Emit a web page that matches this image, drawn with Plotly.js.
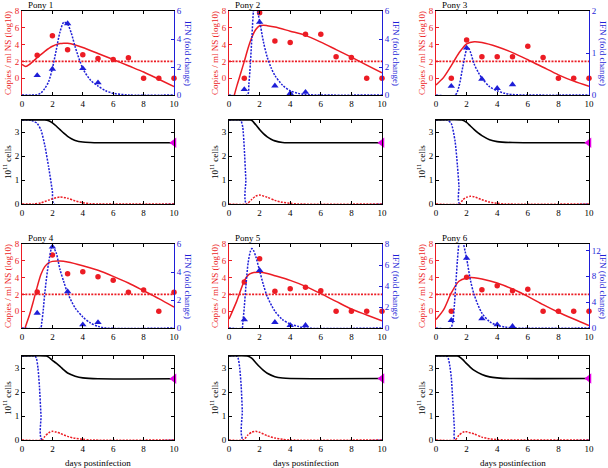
<!DOCTYPE html>
<html><head><meta charset="utf-8">
<script src="https://cdn.plot.ly/plotly-3.0.1.min.js"></script>
<style>html,body{margin:0;padding:0;background:#fff}#chart{width:608px;height:468px}</style>
</head><body><div id="chart"></div>
<script>
// ---------- DATA ----------
const ponyNames = ['Pony 1','Pony 2','Pony 3','Pony 4','Pony 5','Pony 6'];
const obsDays = [1,2,3,4,5,6,7,8,9,10];
const ifnDays = [1,2,3,4,5];
const detectionLimit = 2;
const ifnMax = [6,6,2,6,8,13];
const ifnTickVals = [[0,2,4,6],[0,2,4,6],[0,1,2],[0,2,4,6],[0,2,4,6,8],[0,4,8,12]];
const xTickVals = [0,2,4,6,8,10];
const copiesTickVals = [0,2,4,6,8];
const cellTickVals = [0,1,2,3];

// observed virus titre (log10 copies / ml NS)
const copiesP1 = [2.74,5.04,3.38,2.78,2.35,2.23,2.43,0,0,0];
const copiesP2 = [0,7.8,4.44,4.25,5.23,5.23,2.55,2.47,0,0];
const copiesP3 = [0,4.56,2.55,2.55,2.55,3.8,2.47,0,0,0];
const copiesP4 = [2.29,6.69,4.47,4.7,4.11,3.67,2.25,2.52,0,2.25];
const copiesP5 = [3.48,6.25,2.37,2.68,2.84,2.44,0,0,0,0];
const copiesP6 = [0,4.03,2.56,3.04,2.44,2.6,0,0,0,0];

// observed IFN (fold change)
const ifnP1 = [1.4,1.85,5.1,1.9,0.88];
const ifnP2 = [0.4,5.2,0.66,0.12,0.2];
const ifnP3 = [0.21,1.12,0.38,0.16,0.25];
const ifnP4 = [1.07,5.79,2.6,0.24,0.4];
const ifnP5 = [0.79,5.49,0.54,0.25,0.25];
const ifnP6 = [1.19,10.8,1.44,0.52,0.26];

// model virus curve
const vFitTP1 = [0,0.25,0.5,1,1.5,2,2.5,2.75,3,3.5,4,5,6,7,8,9,10];
const vFitP1  = [1.64,1.4,1.65,2.45,3.2,3.8,4.12,4.17,4.15,3.95,3.65,2.94,2.23,1.48,0.74,-0.12,-1.0];
const vFitTP2 = [0.35,0.5,0.75,1,1.25,1.5,1.75,2,2.25,2.5,3,4,5,6,7,8,9,10];
const vFitP2  = [-2,-1.0,0.5,2.0,3.6,4.9,5.8,6.25,6.3,6.25,6.1,5.6,5.1,4.3,3.4,2.5,1.56,0.65];
const vFitTP3 = [0,0.5,1,1.5,2,2.5,3,4,5,6,7,8,9,10];
const vFitP3  = [-0.8,0.1,1.5,3.0,4.1,4.35,4.25,3.75,3.05,2.2,1.3,0.4,-0.35,-0.95];
const vFitTP4 = [0.2,0.5,0.75,1,1.25,1.5,1.75,2,2.5,3,4,5,6,7,8,9,10];
const vFitP4  = [-2,-0.4,1.2,2.9,4.4,5.3,5.75,5.93,5.97,5.86,5.42,4.87,4.15,3.36,2.44,1.5,0.5];
const vFitTP5 = [0,0.5,1,1.25,1.5,2,2.5,3,4,5,6,7,8,9,10];
const vFitP5  = [-0.93,1.17,3.6,4.3,4.55,4.65,4.5,4.23,3.67,2.96,2.09,1.17,0.26,-0.45,-1.15];
const vFitTP6 = [0,0.5,1,1.5,2,2.25,2.5,3,4,5,6,7,8,9,10];
const vFitP6  = [-1.0,0.18,2.17,3.56,3.95,4.0,3.98,3.83,3.36,2.64,1.77,0.78,-0.13,-0.93,-1.7];

// model IFN curve
const iFitTP1 = [0,1,1.25,1.5,1.75,2,2.25,2.5,2.75,3,3.25,3.5,4,4.5,5,5.5,6,7,10];
const iFitP1  = [0,0.02,0.15,0.47,0.95,1.9,3.2,4.5,5.2,5.05,4.4,3.43,1.9,1.07,0.64,0.3,0.12,0,0];
const iFitTP2 = [0,1.2,1.3,1.4,1.5,1.6,1.7,1.8,1.9,2,2.25,2.5,2.75,3,3.5,4,4.5,5,10];
const iFitP2  = [0,0,0.8,2.3,4.2,6.0,6.6,6.4,5.8,5.3,3.8,2.7,1.95,1.4,0.7,0.3,0.12,0.03,0];
const iFitTP3 = [0,1.26,1.5,1.75,2,2.1,2.25,2.5,2.75,3,3.5,4,4.5,5,10];
const iFitP3  = [0,0,0.2,0.67,1.08,1.12,1.02,0.73,0.55,0.4,0.2,0.1,0.04,0.01,0];
const iFitTP4 = [0,1.22,1.3,1.4,1.5,1.75,2,2.25,2.5,2.75,3,3.5,4,4.5,5,5.5,10];
const iFitP4  = [0,0,0.4,1.3,2.5,4.64,5.85,5.36,4.17,3.3,2.5,1.43,0.79,0.36,0.12,0,0];
const iFitTP5 = [0,0.85,0.9,1,1.1,1.25,1.4,1.5,1.6,1.75,2,2.25,2.5,3,3.5,4,4.5,5,10];
const iFitP5  = [0,0,0.5,2.0,3.9,6.2,7.3,7.56,7.4,6.8,5.45,4.1,3.0,1.6,0.8,0.38,0.16,0,0];
const iFitTP6 = [0,0.95,1.1,1.2,1.3,1.4,1.5,1.6,1.7,1.8,1.9,2,2.25,2.5,3,3.5,4,4.5,5,10];
const iFitP6  = [0,0,1.0,3.5,7.0,10.5,13.1,14.0,14.0,13.0,11.9,10.8,7.4,5.1,2.3,1.0,0.4,0.15,0,0];

// model cell curves (10^11 cells): black, blue dotted, red dotted
const cBlackTP1 = [0,1.5,1.75,2,2.25,2.5,2.75,3,3.25,3.5,4,4.5,5,10];
const cBlackP1  = [3.5,3.5,3.47,3.38,3.25,3.1,2.95,2.82,2.72,2.65,2.58,2.56,2.55,2.55];
const cBlueTP1  = [0,0.6,0.75,1,1.25,1.5,1.75,2,2.1,10];
const cBlueP1   = [3.5,3.49,3.45,3.36,3.08,2.44,1.55,0.52,0,0];
const cRedTP1   = [0,0.75,1.25,1.75,2,2.5,3,3.5,4,4.5,5,10];
const cRedP1    = [0,0,0.05,0.16,0.22,0.29,0.24,0.13,0.05,0.01,0,0];

const cBlackTP2 = [0,1.4,1.5,1.75,2,2.25,2.5,2.75,3,3.5,4,10];
const cBlackP2  = [3.5,3.5,3.48,3.3,3.1,2.93,2.8,2.7,2.63,2.56,2.55,2.55];
const cBlueTP2  = [0,0.72,0.8,0.9,1.0,1.1,1.15,10];
const cBlueP2   = [3.5,3.5,3.45,3.2,2.3,1.0,0,0];
const cRedTP2   = [0,1.15,1.5,1.75,2,2.5,3,3.5,4,4.5,10];
const cRedP2    = [0,0,0.2,0.33,0.37,0.28,0.15,0.07,0.03,0,0];

const cBlackTP3 = [0,1.7,2,2.25,2.5,2.75,3,3.5,4,5,10];
const cBlackP3  = [3.5,3.5,3.4,3.25,3.1,2.96,2.85,2.68,2.6,2.56,2.55];
const cBlueTP3  = [0,0.75,1,1.25,1.4,1.5,1.55,10];
const cBlueP3   = [3.5,3.5,3.35,2.6,1.6,0.75,0,0];
const cRedTP3   = [0,1.55,1.75,2,2.25,2.5,3,3.5,4,4.5,10];
const cRedP3    = [0,0,0.18,0.28,0.32,0.3,0.18,0.08,0.03,0,0];

const cBlackTP4 = [0,1.6,1.75,2,2.25,2.5,2.75,3,3.5,4,5,10];
const cBlackP4  = [3.5,3.5,3.45,3.32,3.2,3.07,2.92,2.79,2.66,2.59,2.55,2.55];
const cBlueTP4  = [0,0.85,0.95,1.05,1.15,1.25,1.32,10];
const cBlueP4   = [3.5,3.5,3.4,3.0,2.2,1.0,0,0];
const cRedTP4   = [0,1.32,1.5,1.75,2,2.25,2.5,3,3.5,4,4.5,10];
const cRedP4    = [0,0,0.15,0.3,0.36,0.33,0.28,0.15,0.07,0.03,0,0];

const cBlackTP5 = [0,1.2,1.5,1.75,2,2.25,2.5,3,3.5,4,10];
const cBlackP5  = [3.5,3.5,3.4,3.22,3.05,2.9,2.78,2.64,2.58,2.56,2.56];
const cBlueTP5  = [0,0.5,0.6,0.7,0.8,0.87,0.93,10];
const cBlueP5   = [3.5,3.5,3.4,3.0,2.2,1.2,0,0];
const cRedTP5   = [0,0.93,1.25,1.5,1.75,2,2.5,3,3.5,4,10];
const cRedP5    = [0,0,0.22,0.33,0.36,0.32,0.18,0.08,0.03,0,0];

const cBlackTP6 = [0,1.4,1.5,1.75,2,2.25,2.5,3,3.5,4,5,10];
const cBlackP6  = [3.5,3.5,3.48,3.35,3.18,3.03,2.9,2.73,2.63,2.59,2.56,2.56];
const cBlueTP6  = [0,0.7,0.8,0.9,1.0,1.1,1.2,1.25,10];
const cBlueP6   = [3.5,3.5,3.4,3.1,2.6,1.6,0.5,0,0];
const cRedTP6   = [0,1.25,1.5,1.75,1.9,2,2.5,3,3.5,4,4.5,10];
const cRedP6    = [0,0,0.2,0.32,0.35,0.34,0.25,0.12,0.05,0.02,0,0];

// ---------- BUILD ----------
const copies = [copiesP1,copiesP2,copiesP3,copiesP4,copiesP5,copiesP6];
const ifns = [ifnP1,ifnP2,ifnP3,ifnP4,ifnP5,ifnP6];
const vFitT = [vFitTP1,vFitTP2,vFitTP3,vFitTP4,vFitTP5,vFitTP6];
const vFit = [vFitP1,vFitP2,vFitP3,vFitP4,vFitP5,vFitP6];
const iFitT = [iFitTP1,iFitTP2,iFitTP3,iFitTP4,iFitTP5,iFitTP6];
const iFit = [iFitP1,iFitP2,iFitP3,iFitP4,iFitP5,iFitP6];
const cBlackT = [cBlackTP1,cBlackTP2,cBlackTP3,cBlackTP4,cBlackTP5,cBlackTP6];
const cBlack = [cBlackP1,cBlackP2,cBlackP3,cBlackP4,cBlackP5,cBlackP6];
const cBlueT = [cBlueTP1,cBlueTP2,cBlueTP3,cBlueTP4,cBlueTP5,cBlueTP6];
const cBlue = [cBlueP1,cBlueP2,cBlueP3,cBlueP4,cBlueP5,cBlueP6];
const cRedT = [cRedTP1,cRedTP2,cRedTP3,cRedTP4,cRedTP5,cRedTP6];
const cRed = [cRedP1,cRedP2,cRedP3,cRedP4,cRedP5,cRedP6];

const W = 608, H = 468;
const RED = 'rgb(236,28,36)', BLUE = 'rgb(30,30,215)', MAG = 'rgb(230,0,230)';
const FONT = '"Liberation Serif", "Times New Roman", serif';
const DOT = '2px,1.3px';
const colPx = [[22,174],[229,382],[436,589]];
const rowTopPx = [[11,95],[244,328]];
const rowCellPx = [[120,204],[356,440]];
const px2x = p => p / W;
const px2y = p => 1 - p / H;
const sfx = n => n === 1 ? '' : String(n);

const data = [];
const layout = {
  width: W, height: H, margin: {l:0, r:0, t:0, b:0},
  paper_bgcolor: '#fff', plot_bgcolor: 'rgba(0,0,0,0)',
  showlegend: false, font: {family: FONT, size: 9, color: '#000'},
  annotations: []
};

function baseAxis(extra) {
  return Object.assign({
    showgrid: false, zeroline: false, showline: true, linewidth: 1,
    ticks: 'inside', ticklen: 3, tickwidth: 1, fixedrange: true,
    tickfont: {family: FONT, size: 9, color: '#000'}
  }, extra);
}

for (let i = 0; i < 6; i++) {
  const col = i % 3, row = Math.floor(i / 3);
  const cx = colPx[col], tp = rowTopPx[row], cp = rowCellPx[row];
  const xTop = 2*i+1, xCell = 2*i+2, yL = 3*i+1, yR = 3*i+2, yC = 3*i+3;
  const xd = [px2x(cx[0]), px2x(cx[1])];

  layout['xaxis'+sfx(xTop)] = baseAxis({domain: xd, range: [0,10], anchor: 'y'+sfx(yL),
    tickvals: xTickVals, linecolor: '#000', tickcolor: '#000', mirror: 'ticks'});
  layout['yaxis'+sfx(yL)] = baseAxis({domain: [px2y(tp[1]), px2y(tp[0])], range: [-2,8],
    anchor: 'x'+sfx(xTop), tickvals: copiesTickVals, linecolor: RED, tickcolor: RED,
    tickfont: {family: FONT, size: 9, color: RED}});
  layout['yaxis'+sfx(yR)] = baseAxis({overlaying: 'y'+sfx(yL), side: 'right', range: [0, ifnMax[i]],
    anchor: 'x'+sfx(xTop), tickvals: ifnTickVals[i], linecolor: BLUE, tickcolor: BLUE,
    tickfont: {family: FONT, size: 9, color: BLUE}});
  layout['xaxis'+sfx(xCell)] = baseAxis({domain: xd, range: [0,10], anchor: 'y'+sfx(yC),
    tickvals: xTickVals, linecolor: '#000', tickcolor: '#000', mirror: 'ticks'});
  layout['yaxis'+sfx(yC)] = baseAxis({domain: [px2y(cp[1]), px2y(cp[0])], range: [0,3.5],
    anchor: 'x'+sfx(xCell), tickvals: cellTickVals, linecolor: '#000', tickcolor: '#000', mirror: 'ticks'});

  const xa = 'x'+sfx(xTop), yla = 'y'+sfx(yL), yra = 'y'+sfx(yR);
  const xc = 'x'+sfx(xCell), yc = 'y'+sfx(yC);

  data.push({type:'scatter', mode:'lines', x:[0,10], y:[detectionLimit,detectionLimit], xaxis:xa, yaxis:yla,
    line:{color:RED, width:1.6, dash:DOT}, hoverinfo:'skip'});
  data.push({type:'scatter', mode:'lines', x:vFitT[i], y:vFit[i], xaxis:xa, yaxis:yla,
    line:{color:RED, width:1.5, shape:'spline', smoothing:0.8}});
  data.push({type:'scatter', mode:'markers', x:obsDays, y:copies[i], xaxis:xa, yaxis:yla, cliponaxis:false,
    marker:{color:RED, size:5.5, symbol:'circle'}});
  data.push({type:'scatter', mode:'lines', x:iFitT[i], y:iFit[i], xaxis:xa, yaxis:yra,
    line:{color:BLUE, width:1.5, dash:DOT, shape:'spline', smoothing:0.8}});
  data.push({type:'scatter', mode:'markers', x:ifnDays, y:ifns[i], xaxis:xa, yaxis:yra, cliponaxis:false,
    marker:{color:BLUE, size:6.5, symbol:'triangle-up'}});

  data.push({type:'scatter', mode:'lines', x:cBlueT[i], y:cBlue[i], xaxis:xc, yaxis:yc,
    line:{color:BLUE, width:1.5, dash:DOT, shape:'spline', smoothing:0.6}});
  data.push({type:'scatter', mode:'lines', x:cRedT[i], y:cRed[i], xaxis:xc, yaxis:yc,
    line:{color:RED, width:1.5, dash:DOT, shape:'spline', smoothing:0.6}});
  data.push({type:'scatter', mode:'lines', x:cBlackT[i], y:cBlack[i], xaxis:xc, yaxis:yc,
    line:{color:'#000', width:1.6, shape:'spline', smoothing:0.6}});
  const lastT = cBlackT[i][cBlackT[i].length-1], lastV = cBlack[i][cBlack[i].length-1];
  data.push({type:'scatter', mode:'markers', x:[lastT], y:[lastV], xaxis:xc, yaxis:yc, cliponaxis:false,
    marker:{color:MAG, size:9, symbol:'triangle-left'}});

  // annotations
  layout.annotations.push({xref:'paper', yref:'paper', x:px2x(cx[0]+4), y:px2y(tp[0]-6),
    xanchor:'left', yanchor:'middle', showarrow:false, text:ponyNames[i],
    font:{family:FONT, size:9, color:'#000'}});
  layout.annotations.push({xref:'paper', yref:'paper', x:px2x(cx[0]-14), y:px2y((tp[0]+tp[1])/2),
    xanchor:'center', yanchor:'middle', showarrow:false, textangle:-90, text:'Copies / ml NS (log10)',
    font:{family:FONT, size:9, color:RED}});
  layout.annotations.push({xref:'paper', yref:'paper', x:px2x(cx[1]+14), y:px2y((tp[0]+tp[1])/2),
    xanchor:'center', yanchor:'middle', showarrow:false, textangle:90, text:'IFN (fold change)',
    font:{family:FONT, size:9, color:BLUE}});
  layout.annotations.push({xref:'paper', yref:'paper', x:px2x(cx[0]-15), y:px2y((cp[0]+cp[1])/2),
    xanchor:'center', yanchor:'middle', showarrow:false, textangle:-90, text:'10<sup>11</sup> cells',
    font:{family:FONT, size:9, color:'#000'}});
  if (row === 1) {
    layout.annotations.push({xref:'paper', yref:'paper', x:px2x((cx[0]+cx[1])/2), y:px2y(463),
      xanchor:'center', yanchor:'middle', showarrow:false, text:'days postinfection',
      font:{family:FONT, size:9, color:'#000'}});
  }
}

Plotly.newPlot('chart', data, layout, {staticPlot:true, displayModeBar:false});
</script></body></html>
